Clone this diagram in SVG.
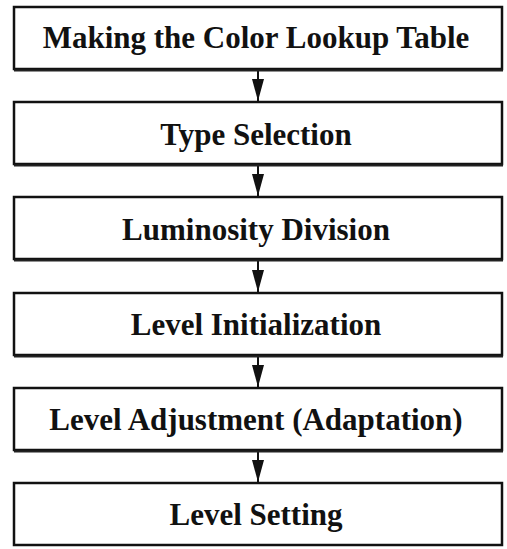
<svg xmlns="http://www.w3.org/2000/svg" width="507" height="549" viewBox="0 0 507 549">
<style>
.box{fill:#fff;stroke:#111;stroke-width:2.5}
.sh{stroke:#222;stroke-width:2;fill:none}
.lbl{font-family:"Liberation Serif","Times New Roman",serif;font-weight:bold;font-size:31px;fill:#111;text-anchor:middle}
.conn{stroke:#111;stroke-width:2;fill:none}
</style>
<defs>
<marker id="ah" markerWidth="22" markerHeight="12" refX="22" refY="6" orient="auto" markerUnits="userSpaceOnUse" viewBox="0 0 22 12">
<path d="M0,0 L22,6 L0,12 Z" fill="#111"/>
</marker>
</defs>
<g id="connectors">
<line class="conn" x1="258" y1="70" x2="258" y2="101" marker-end="url(#ah)"/>
<line class="conn" x1="258" y1="165" x2="258" y2="196" marker-end="url(#ah)"/>
<line class="conn" x1="258" y1="260" x2="258" y2="292" marker-end="url(#ah)"/>
<line class="conn" x1="258" y1="356" x2="258" y2="387" marker-end="url(#ah)"/>
<line class="conn" x1="258" y1="451" x2="258" y2="482" marker-end="url(#ah)"/>
</g>
<g id="n1"><rect class="box" x="14" y="7" width="488" height="62"/><line class="sh" x1="14" y1="70.5" x2="503" y2="70.5"/><text class="lbl" x="256" y="48">Making the Color Lookup Table</text></g>
<g id="n2"><rect class="box" x="14" y="102" width="488" height="62"/><line class="sh" x1="14" y1="165.5" x2="503" y2="165.5"/><text class="lbl" x="256" y="145">Type Selection</text></g>
<g id="n3"><rect class="box" x="14" y="197" width="488" height="62"/><line class="sh" x1="14" y1="260.5" x2="503" y2="260.5"/><text class="lbl" x="256" y="240">Luminosity Division</text></g>
<g id="n4"><rect class="box" x="14" y="293" width="488" height="62"/><line class="sh" x1="14" y1="356.5" x2="503" y2="356.5"/><text class="lbl" x="256" y="335">Level Initialization</text></g>
<g id="n5"><rect class="box" x="14" y="388" width="488" height="62"/><line class="sh" x1="14" y1="451.5" x2="503" y2="451.5"/><text class="lbl" x="256" y="430">Level Adjustment (Adaptation)</text></g>
<g id="n6"><rect class="box" x="14" y="483" width="488" height="62"/><text class="lbl" x="256" y="525">Level Setting</text></g>
</svg>
